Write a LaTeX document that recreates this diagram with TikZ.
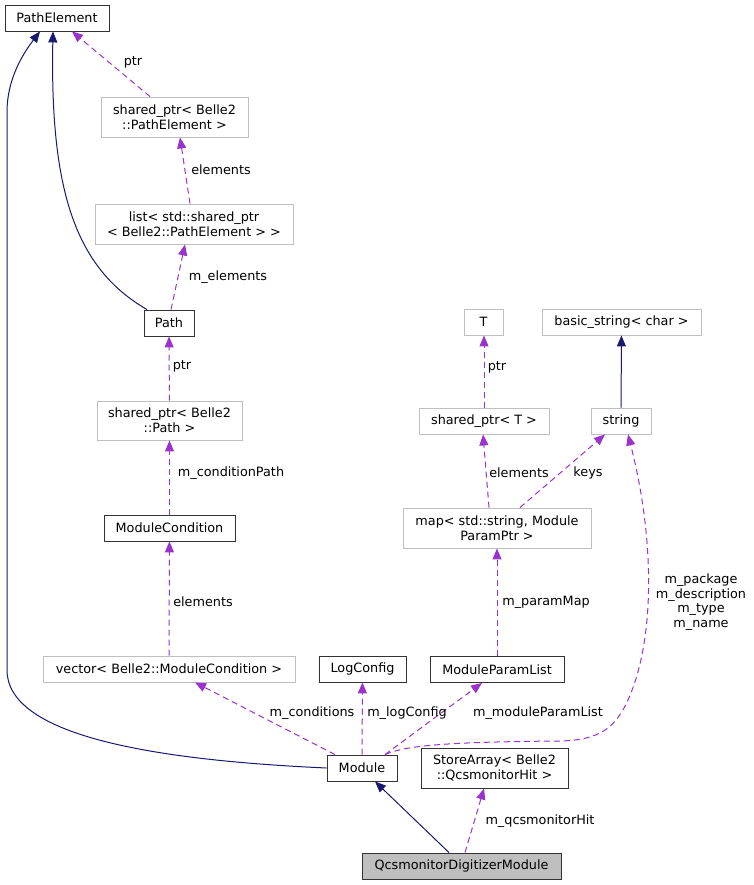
\documentclass[tikz,border=0pt]{standalone}
\usepackage{fontspec}
\setmainfont{DejaVu Sans}
\usetikzlibrary{arrows.meta}
\definecolor{navy}{HTML}{191970}
\definecolor{orchid}{HTML}{9A32CD}
\tikzset{
	cls/.style={draw=black!80, line width=0.9pt, fill=white, align=center, inner sep=0pt, minimum height=26pt, font=\fontsize{12.8}{14.7}\selectfont},
	ext/.style={cls, draw=black!25},
	lbl/.style={inner sep=0pt, align=center, font=\fontsize{12.8}{14.7}\selectfont},
	inh/.style={line width=1pt, color=navy, -{Triangle[length=11pt,width=9pt]}},
	use/.style={line width=1pt, color=orchid, dash pattern=on 6pt off 4pt, -{Triangle[length=11pt,width=9pt]}}
}

\begin{document}
\begin{tikzpicture}[x=1pt, y=-1pt]
			%%%%% START %%%%%
			\useasboundingbox (0,0) rectangle (753,885);
			
			\node[cls, minimum width=104pt] (pe) at (57,18) {PathElement};
			\node[ext, minimum width=147pt, minimum height=40pt] (spe) at (174.5,117) {shared\_ptr< Belle2\\::PathElement >};
			\node[ext, minimum width=198pt, minimum height=40pt] (lst) at (194,224) {list< std::shared\_ptr\\< Belle2::PathElement > >};
			\node[cls, minimum width=50pt] (path) at (169,323) {Path};
			\node[ext, minimum width=145pt, minimum height=39pt] (spp) at (169.5,420.5) {shared\_ptr< Belle2\\::Path >};
			\node[cls, minimum width=131pt] (mc) at (169.5,528) {ModuleCondition};
			\node[ext, minimum width=252pt] (vec) at (169,669) {vector< Belle2::ModuleCondition >};
			\node[cls, minimum width=87pt] (logc) at (362.5,669) {LogConfig};
			\node[cls, minimum width=134pt] (mpl) at (497,669.5) {ModuleParamList};
			\node[cls, minimum width=70pt] (mod) at (362,768) {Module};
			\node[cls, minimum width=147pt, minimum height=40pt] (sa) at (494.5,768) {StoreArray< Belle2\\::QcsmonitorHit >};
			\node[cls, fill=black!25, minimum width=199pt] (qdm) at (461.5,866) {QcsmonitorDigitizerModule};
			
			\node[ext, minimum width=39pt] (t) at (483.5,322) {T};
			\node[ext, minimum width=159pt] (bs) at (621.5,322) {basic\_string< char >};
			\node[ext, minimum width=130pt] (spt) at (484,421) {shared\_ptr< T >};
			\node[ext, minimum width=60pt] (str) at (621,421) {string};
			\node[ext, minimum width=188pt, minimum height=40pt] (map) at (497,528) {map< std::string, Module\\ParamPtr >};
			
			% inheritance
			\draw[inh] (mod.west) .. controls (150,760) and (7,735) .. (7,670) -- (7,112) .. controls (7,80) and (22,55) .. ([xshift=-17pt]pe.south);
			\draw[inh] ([xshift=-22pt]path.north) .. controls (75,268) and (50,190) .. ([xshift=-4pt]pe.south);
			\draw[inh] (str) -- (bs);
			\draw[inh] ([xshift=-12.5pt]qdm.north) -- ([xshift=13pt]mod.south);
			
			% usage
			\draw[use] ([xshift=-24.5pt]spe.north) -- ([xshift=15pt]pe.south);
			\draw[use] ([xshift=-4pt]lst.north) -- ([xshift=5.5pt]spe.south);
			\draw[use] ([xshift=2pt]path.north) -- ([xshift=-9pt]lst.south);
			\draw[use] (spp) -- (path);
			\draw[use] (mc) -- (spp);
			\draw[use] (vec) -- (mc);
			\draw[use] ([xshift=-27pt]mod.north) -- ([xshift=26pt]vec.south);
			\draw[use] (mod) -- (logc);
			\draw[use] ([xshift=23pt]mod.north) -- ([xshift=-15pt]mpl.south);
			\draw[use] ([xshift=23pt]mod.north) .. controls (405,746) and (440,742) .. (560,741) .. controls (600,740) and (615,728) .. (628,700) .. controls (655,640) and (655,540) .. ([xshift=7pt]str.south);
			\draw[use] (mpl) -- (map);
			\draw[use] ([xshift=-8pt]map.north) -- ([xshift=-1pt]spt.south);
			\draw[use] ([xshift=23pt]map.north) -- ([xshift=-16pt]str.south);
			\draw[use] (spt) -- (spt.center |- t.south);
			\draw[use] ([xshift=3.5pt]qdm.north) -- ([xshift=-10.5pt]sa.south);
			
			% labels
			\node[lbl] (l1) at (133,62) {ptr};
			\node[lbl] (l2) at (221,170) {elements};
			\node[lbl] (l3) at (228,277) {m\_elements};
			\node[lbl] (l4) at (182,366) {ptr};
			\node[lbl] (l5) at (231,473) {m\_conditionPath};
			\node[lbl] (l6) at (203,602) {elements};
			\node[lbl] (l7) at (312,713) {m\_conditions};
			\node[lbl] (l8) at (407,713) {m\_logConfig};
			\node[lbl] (l9) at (538,713) {m\_moduleParamList};
			\node[lbl] (l10) at (540,821) {m\_qcsmonitorHit};
			\node[lbl] (l11) at (497,367) {ptr};
			\node[lbl] (l12) at (519,473) {elements};
			\node[lbl] (l13) at (588,473) {keys};
			\node[lbl] (l14) at (546,602) {m\_paramMap};
			\node[lbl] (l15) at (701,602) {m\_package\\m\_description\\m\_type\\m\_name};
			
			%%%%% END %%%%%
\end{tikzpicture}
\end{document}
